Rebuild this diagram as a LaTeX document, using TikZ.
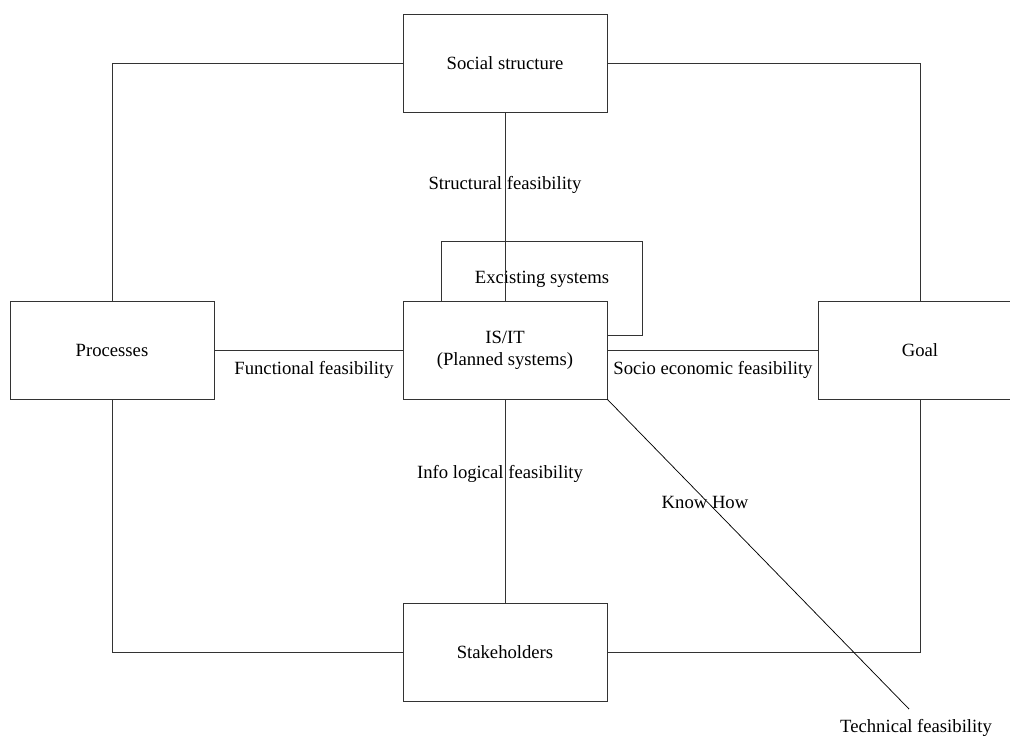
\documentclass[tikz,border=0pt]{standalone}
\usepackage{fontspec}
\setmainfont{Liberation Serif}
\begin{document}
\begin{tikzpicture}[x=0.75pt,y=-0.75pt,
  box/.style={draw=black!80, line width=0.7pt, fill=white, minimum width=153pt, minimum height=73.5pt, inner sep=0pt, align=center, font=\fontsize{14}{16.5}\selectfont},
  conn/.style={draw=black!80, line width=0.7pt},
  lbl/.style={inner sep=0pt, font=\fontsize{14}{16.5}\selectfont}]
\useasboundingbox (0,0) rectangle (1010,738);
% existing systems box (behind IS/IT)
\node[draw=black!80, line width=0.7pt, minimum width=150.75pt, minimum height=70.5pt, inner sep=0pt] (ex) at (541.5,288) {};
\node[lbl] (extext) at (542,279) {Excisting systems};
% main boxes
\node[box] (soc) at (505,63) {Social structure};
\node[box] (proc) at (112,350) {Processes};
\node[box] (goal) at (920,350) {Goal};
\node[box] (stake) at (505,652) {Stakeholders};
\coordinate (tech) at (909,709);
% connectors
\draw[conn] (soc.west) -| (proc.north);
\draw[conn] (soc.east) -| (goal.north);
\draw[conn] (proc.south) |- (stake.west);
\draw[conn] (goal.south) |- (stake.east);
\draw[conn] (soc.south) -- (505,301);
\node[box] (isit) at (505,350) {IS/IT\\(Planned systems)};
\draw[conn] (isit.south) -- (stake.north);
\draw[conn] (proc.east) -- (isit.west);
\draw[conn] (isit.east) -- (goal.west);
\draw[draw=black, line width=0.55pt] (isit.south east) -- (tech);
% labels
\node[lbl] (l1) at (505,185) {Structural feasibility};
\node[lbl] (l2) at (314,370) {Functional feasibility};
\node[lbl] (l3) at (713,370) {Socio economic feasibility};
\node[lbl] (l4) at (500,474) {Info logical feasibility};
\node[lbl] (l5) at (705,502) {Know How};
\node[lbl] (l6) at (916,728) {Technical feasibility};
\end{tikzpicture}
\end{document}
